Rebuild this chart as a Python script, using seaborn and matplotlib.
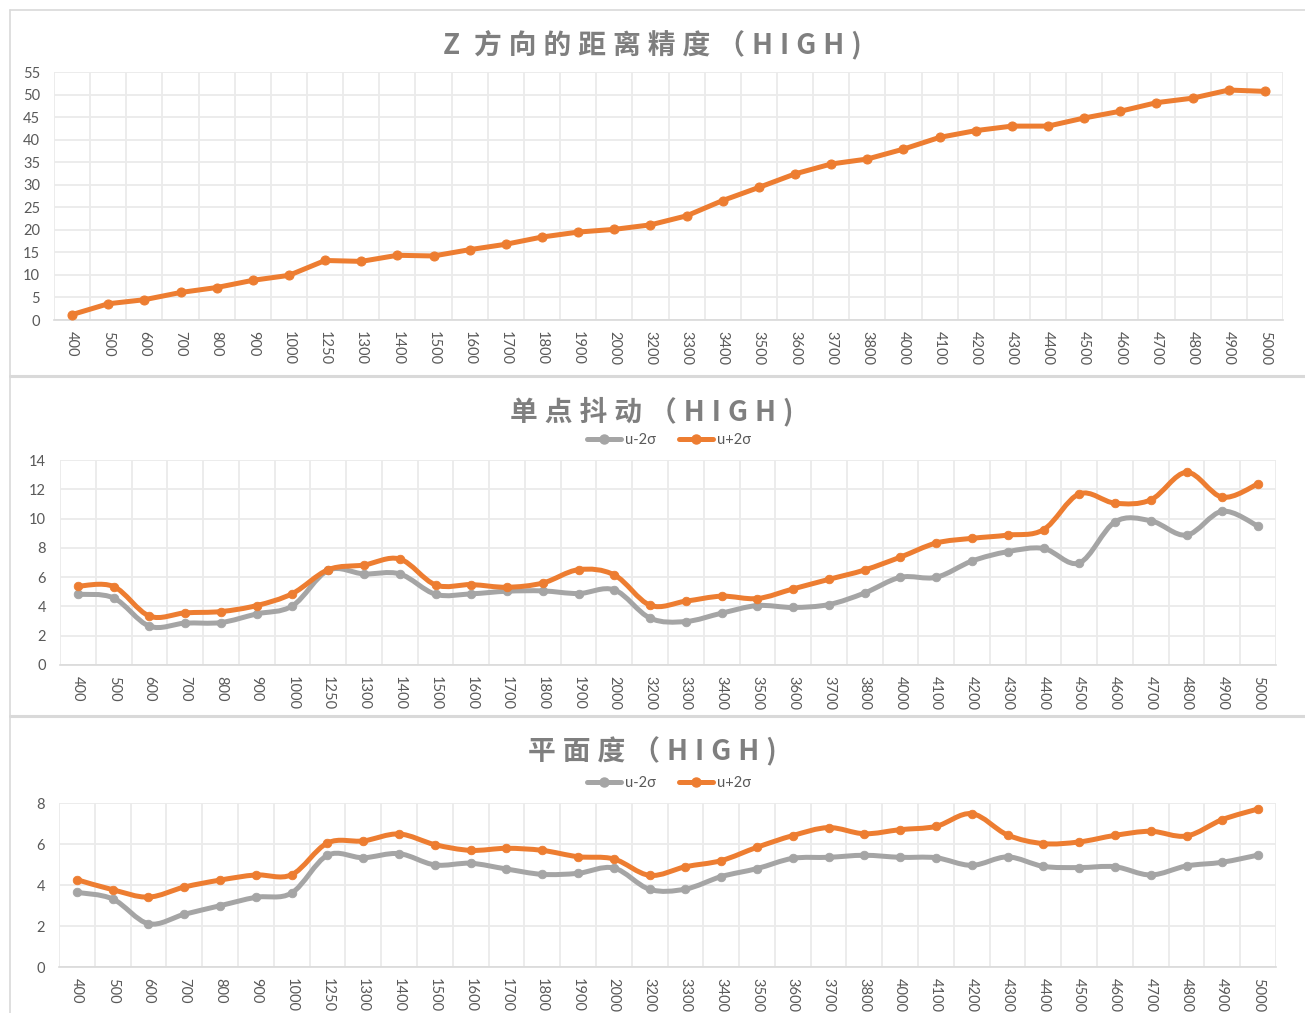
import numpy as np
import pandas as pd
import matplotlib
matplotlib.use("Agg")
import matplotlib.pyplot as plt
import seaborn as sns
from matplotlib.path import Path
from matplotlib.patches import PathPatch
from matplotlib.lines import Line2D

# ---------------- data ----------------
categories = ["400", "500", "600", "700", "800", "900", "1000", "1250", "1300", "1400",
              "1500", "1600", "1700", "1800", "1900", "2000", "3200", "3300", "3400", "3500",
              "3600", "3700", "3800", "4000", "4100", "4200", "4300", "4400", "4500", "4600",
              "4700", "4800", "4900", "5000"]

z_accuracy = [1.2, 3.6, 4.5, 6.1, 7.2, 8.8, 9.9, 13.2, 13.0, 14.35,
              14.2, 15.6, 16.8, 18.4, 19.5, 20.1, 21.1, 23.1, 26.5, 29.4,
              32.4, 34.6, 35.7, 37.9, 40.5, 42.0, 43.0, 43.0, 44.8, 46.3,
              48.2, 49.2, 51.0, 50.7]

jitter_lo = [4.83, 4.58, 2.65, 2.86, 2.90, 3.49, 4.04, 6.47, 6.22, 6.22,
             4.83, 4.86, 5.04, 5.06, 4.88, 5.13, 3.20, 2.97, 3.54, 4.06,
             3.93, 4.13, 4.92, 5.99, 5.99, 7.10, 7.74, 7.96, 6.97, 9.78,
             9.85, 8.87, 10.50, 9.48]
jitter_hi = [5.38, 5.36, 3.34, 3.56, 3.65, 4.06, 4.88, 6.51, 6.83, 7.24,
             5.47, 5.49, 5.31, 5.60, 6.51, 6.15, 4.08, 4.36, 4.70, 4.54,
             5.20, 5.85, 6.49, 7.37, 8.33, 8.65, 8.87, 9.24, 11.69, 11.05,
             11.28, 13.16, 11.46, 12.37]

flat_lo = [3.64, 3.32, 2.11, 2.57, 2.99, 3.40, 3.61, 5.45, 5.33, 5.53,
           4.98, 5.06, 4.78, 4.52, 4.57, 4.83, 3.79, 3.80, 4.41, 4.80,
           5.30, 5.35, 5.45, 5.35, 5.33, 4.96, 5.37, 4.91, 4.85, 4.89,
           4.49, 4.93, 5.11, 5.46]
flat_hi = [4.26, 3.77, 3.41, 3.90, 4.24, 4.49, 4.50, 6.05, 6.15, 6.49,
           5.97, 5.69, 5.79, 5.69, 5.38, 5.27, 4.47, 4.89, 5.19, 5.84,
           6.41, 6.80, 6.50, 6.70, 6.86, 7.48, 6.44, 6.02, 6.10, 6.42,
           6.62, 6.39, 7.19, 7.71]

titles = ["Z 方向的距离精度（HIGH)", "单点抖动（HIGH)", "平面度（HIGH)"]
series_names = ["u-2σ", "u+2σ"]

# ---------------- style ----------------
ORANGE = "#ED7D31"
GRAY = "#A5A5A5"
GRID = "#ebebeb"
TICK = "#595959"
TITLE = "#7f7f7f"
BORDER = "#d9d9d9"

W, H = 1305, 1013
sns.set_theme(style="white")
plt.rcParams["font.family"] = ["Lato", "Noto Sans CJK SC", "DejaVu Sans"]

fig = plt.figure(figsize=(W / 100, H / 100), dpi=100)
n = len(categories)
pos = np.arange(n)


def fig_box(l, r, t, b):
    return [l / W, 1 - b / H, (r - l) / W, (b - t) / H]


def style_axes(ax, ymax, ystep):
    ax.set_xlim(-0.5, n - 0.5)
    ax.set_ylim(0, ymax)
    ax.set_yticks(np.arange(0, ymax + 0.01, ystep))
    ax.set_yticklabels([f"{v:g}" for v in np.arange(0, ymax + 0.01, ystep)])
    ax.set_xticks(pos)
    ax.set_xticklabels(categories, rotation=-90, ha="center", va="top")
    ax.set_xticks(np.arange(-0.5, n), minor=True)
    ax.grid(False)
    ax.grid(which="minor", axis="x", color=GRID, lw=1.3)
    ax.grid(which="major", axis="y", color=GRID, lw=1.3)
    for s in ["top", "left", "right"]:
        ax.spines[s].set_visible(False)
    ax.spines["bottom"].set_color(BORDER)
    ax.spines["bottom"].set_linewidth(1.2)
    ax.tick_params(which="both", length=0)
    ax.tick_params(axis="y", pad=10, labelsize=10.5, labelcolor=TICK)
    ax.tick_params(axis="x", pad=8, labelsize=10.5, labelcolor=TICK)
    ax.set_xlabel("")
    ax.set_ylabel("")
    ax.set_axisbelow(True)


def smooth_path(xs, ys):
    pts = np.column_stack([xs, ys]).astype(float)
    m = len(pts)
    verts = [pts[0]]
    codes = [Path.MOVETO]
    for i in range(m - 1):
        p_prev = pts[i - 1] if i > 0 else pts[i]
        p0 = pts[i]
        p1 = pts[i + 1]
        p_next = pts[i + 2] if i + 2 < m else pts[i + 1]
        c1 = p0 + (p1 - p_prev) / 6.0
        c2 = p1 - (p_next - p0) / 6.0
        verts += [c1, c2, p1]
        codes += [Path.CURVE4] * 3
    return Path(verts, codes)


def smooth_series(ax, vals, color, z):
    patch = PathPatch(smooth_path(pos, vals), fill=False, edgecolor=color, lw=3.6,
                      capstyle="round", joinstyle="round", zorder=z)
    ax.add_patch(patch)
    sns.scatterplot(x=pos, y=vals, color=color, s=38, edgecolor=color,
                    linewidth=0.6, zorder=z + 0.5, ax=ax, legend=False)


def spaced(text):
    sp = "\u2005"
    out = ""
    for i, ch in enumerate(text):
        if ch == " ":
            out += "\u2002"
            continue
        out += ch
        if i < len(text) - 1 and text[i + 1] != " ":
            out += sp
    return out


# ---------------- chart 1 ----------------
ax1 = fig.add_axes(fig_box(54, 1283, 72, 320))
df1 = pd.DataFrame({"x": pos, "y": z_accuracy})
sns.lineplot(data=df1, x="x", y="y", color=ORANGE, lw=3.6, marker="o", markersize=6.5,
             markeredgecolor=ORANGE, ax=ax1, zorder=3)
style_axes(ax1, 55, 5)

# ---------------- chart 2 ----------------
ax2 = fig.add_axes(fig_box(60, 1276, 460, 665))
smooth_series(ax2, jitter_lo, GRAY, 3)
smooth_series(ax2, jitter_hi, ORANGE, 4)
style_axes(ax2, 14, 2)

# ---------------- chart 3 ----------------
ax3 = fig.add_axes(fig_box(59, 1276, 803, 967))
smooth_series(ax3, flat_lo, GRAY, 3)
smooth_series(ax3, flat_hi, ORANGE, 4)
style_axes(ax3, 8, 2)

# ---------------- titles ----------------
title_y = [46, 412, 752]
for t, yy in zip(titles, title_y):
    fig.text(652 / W, 1 - yy / H, spaced(t), ha="center", va="center", fontsize=20,
             color=TITLE, weight="bold", family=["Noto Sans CJK SC", "DejaVu Sans"])

# ---------------- legends ----------------
handles = [Line2D([0], [0], color=GRAY, lw=3.6, marker="o", markersize=6.5),
           Line2D([0], [0], color=ORANGE, lw=3.6, marker="o", markersize=6.5)]
for yy in [440, 783]:
    fig.legend(handles, series_names, loc="center", bbox_to_anchor=(669 / W, 1 - yy / H),
               ncol=2, frameon=False, fontsize=10.5, labelcolor=TICK, handlelength=2.3,
               handletextpad=0.3, columnspacing=1.6, borderaxespad=0, borderpad=0)

# ---------------- chart frames ----------------
fig.add_artist(Line2D([10 / W, 1], [1 - 10 / H, 1 - 10 / H], transform=fig.transFigure,
                      color=BORDER, lw=1.2))
fig.add_artist(Line2D([10 / W, 10 / W], [0, 1 - 10 / H], transform=fig.transFigure,
                      color=BORDER, lw=1.2))
for yy in [376, 716]:
    fig.add_artist(Line2D([10 / W, 1], [1 - yy / H, 1 - yy / H], transform=fig.transFigure,
                          color=BORDER, lw=2.2))

fig.savefig("out.png", dpi=100, facecolor="white")
